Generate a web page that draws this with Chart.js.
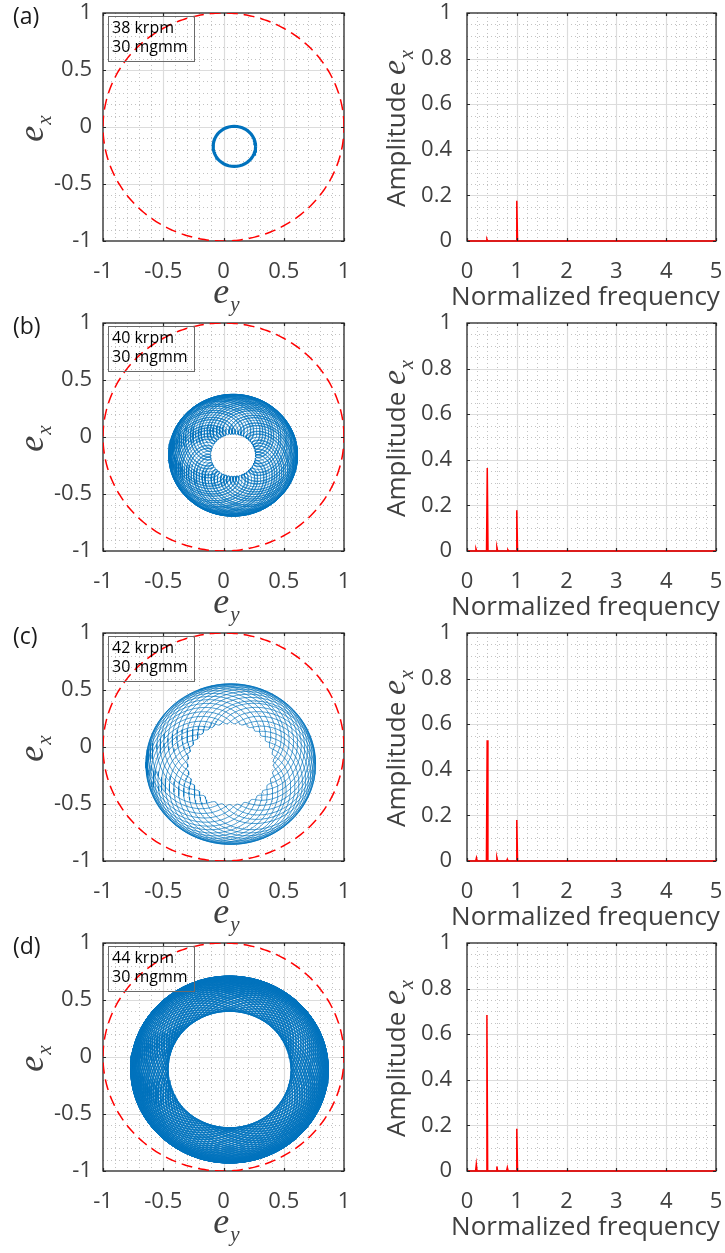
<!DOCTYPE html>
<html>
<head>
<meta charset="utf-8">
<script src="https://cdn.jsdelivr.net/npm/chart.js@4.4.1/dist/chart.umd.min.js"></script>
<style>
  html, body { margin: 0; padding: 0; background: #ffffff; }
  body { position: relative; width: 725px; height: 1253px; overflow: hidden; }
  canvas { position: absolute; }
</style>
</head>
<body>
<script>
// ---------------- data ----------------
const panelLetters   = ['(a)', '(b)', '(c)', '(d)'];
const speedLabels    = ['38 krpm', '40 krpm', '42 krpm', '44 krpm'];
const imbalanceLabel = '30 mgmm';

// orbit tick labels (e_y horizontal, e_x vertical)
const orbitTicks = [-1, -0.5, 0, 0.5, 1];
// spectrum tick labels
const freqTicks = [0, 1, 2, 3, 4, 5];
const ampTicks  = [0, 0.2, 0.4, 0.6, 0.8, 1];

// bearing clearance circle (red dashed)
const clearanceRadius = 1;

const orbitCenterEy = [0.09, 0.08, 0.06, 0.05];
const orbitCenterEx = [-0.17, -0.16, -0.15, -0.11];
const orbitSubAmp   = [0.004, 0.36, 0.53, 0.665];     // sub-synchronous whirl amplitude
const orbitSyncAmp  = [0.176, 0.175, 0.175, 0.155];   // synchronous (unbalance) amplitude
const orbitSubFreq  = [0.40, 0.407, 0.40332, 0.4017]; // normalized sub-synchronous frequency
const orbitRevs     = [20, 150, 60.3, 400];           // shaft revolutions shown

// amplitude spectra of e_x (normalized frequency, amplitude)
const specFreqA = [0, 0.385, 0.40, 0.415, 0.985, 1.0, 1.015, 5];
const specAmpA  = [0, 0,     0.008, 0,    0,     0.176, 0,   0];

const specFreqB = [0, 0.165, 0.18, 0.195, 0.392, 0.407, 0.422, 0.585, 0.60, 0.615, 0.805, 0.82, 0.835, 0.985, 1.0, 1.015, 5];
const specAmpB  = [0, 0,     0.010, 0,    0,     0.364, 0,     0,     0.016, 0,    0,     0.005, 0,    0,     0.179, 0,   0];

const specFreqC = [0, 0.175, 0.19, 0.205, 0.39, 0.405, 0.42, 0.585, 0.60, 0.615, 0.795, 0.81, 0.825, 0.985, 1.0, 1.015, 5];
const specAmpC  = [0, 0,     0.014, 0,    0,    0.53,  0,    0,     0.015, 0,    0,     0.008, 0,    0,     0.18, 0,    0];

const specFreqD = [0, 0.172, 0.187, 0.202, 0.385, 0.40, 0.415, 0.585, 0.60, 0.615, 0.795, 0.81, 0.825, 0.985, 1.0, 1.015, 5];
const specAmpD  = [0, 0,     0.030, 0,     0,     0.684, 0,    0,     0.020, 0,    0,     0.015, 0,    0,     0.185, 0,   0];

const specFreqs = [specFreqA, specFreqB, specFreqC, specFreqD];
const specAmps  = [specAmpA, specAmpB, specAmpC, specAmpD];

// ---------------- layout / style ----------------
const rowTops    = [0, 310, 620, 930];
const rowHeights = [330, 330, 330, 323];
const PLOT_TOP = 13, PLOT_H = 228;
const SANS = '"Open Sans", "Noto Sans", sans-serif';
const SERIF = '"Liberation Serif", "DejaVu Serif", serif';
const TXT = '#404040';

function subdivide(ticks, n) {
  const out = [];
  for (let i = 0; i < ticks.length - 1; i++) {
    const a = ticks[i], b = ticks[i + 1];
    for (let k = 1; k < n; k++) out.push(a + (b - a) * k / n);
  }
  return out;
}

function drawRich(ctx, parts, cx, baseY) {
  let W = 0;
  parts.forEach(p => { ctx.font = p.font; p.w = ctx.measureText(p.text).width; W += p.w + (p.gap || 0); });
  let x = cx - W / 2;
  ctx.textAlign = 'left';
  ctx.textBaseline = 'alphabetic';
  parts.forEach(p => {
    ctx.font = p.font; ctx.fillStyle = p.color || TXT;
    ctx.fillText(p.text, x, baseY + (p.dy || 0));
    x += p.w + (p.gap || 0);
  });
}

const matlabAxes = {
  id: 'matlabAxes',
  beforeDatasetsDraw(chart, _args, o) {
    const { ctx, chartArea: A } = chart;
    const xs = chart.scales.x, ys = chart.scales.y;
    ctx.save();
    // minor dotted grid
    ctx.lineWidth = 1;
    ctx.strokeStyle = '#c2c2c2';
    ctx.setLineDash([1, 3]);
    subdivide(o.xTicks, o.xMinor).forEach(v => {
      const p = Math.round(xs.getPixelForValue(v)) + 0.5;
      ctx.beginPath(); ctx.moveTo(p, A.top); ctx.lineTo(p, A.bottom); ctx.stroke();
    });
    subdivide(o.yTicks, o.yMinor).forEach(v => {
      const p = Math.round(ys.getPixelForValue(v)) + 0.5;
      ctx.beginPath(); ctx.moveTo(A.left, p); ctx.lineTo(A.right, p); ctx.stroke();
    });
    // major grid
    ctx.setLineDash([]);
    ctx.strokeStyle = '#dcdcdc';
    ctx.lineWidth = 1.2;
    o.xTicks.slice(1, -1).forEach(v => {
      const p = Math.round(xs.getPixelForValue(v)) + 0.5;
      ctx.beginPath(); ctx.moveTo(p, A.top); ctx.lineTo(p, A.bottom); ctx.stroke();
    });
    o.yTicks.slice(1, -1).forEach(v => {
      const p = Math.round(ys.getPixelForValue(v)) + 0.5;
      ctx.beginPath(); ctx.moveTo(A.left, p); ctx.lineTo(A.right, p); ctx.stroke();
    });
    // axes box
    ctx.strokeStyle = '#262626';
    ctx.lineWidth = 1.3;
    ctx.strokeRect(A.left, A.top, A.right - A.left, A.bottom - A.top);
    ctx.restore();
  },
  afterDatasetsDraw(chart, _args, o) {
    const { ctx, chartArea: A } = chart;
    const xs = chart.scales.x, ys = chart.scales.y;
    ctx.save();
    // inward tick marks
    ctx.strokeStyle = '#262626';
    ctx.lineWidth = 1.2;
    const L = 3;
    o.xTicks.forEach(v => {
      const p = Math.round(xs.getPixelForValue(v)) + 0.5;
      ctx.beginPath(); ctx.moveTo(p, A.bottom); ctx.lineTo(p, A.bottom - L);
      ctx.moveTo(p, A.top); ctx.lineTo(p, A.top + L); ctx.stroke();
    });
    o.yTicks.forEach(v => {
      const p = Math.round(ys.getPixelForValue(v)) + 0.5;
      ctx.beginPath(); ctx.moveTo(A.left, p); ctx.lineTo(A.left + L, p);
      ctx.moveTo(A.right, p); ctx.lineTo(A.right - L, p); ctx.stroke();
    });

    const cy = (A.top + A.bottom) / 2 + 1.5;
    if (o.kind === 'orbit') {
      // x title e_y
      drawRich(ctx, [
        { text: 'e', font: 'italic 36px ' + SERIF, gap: 1 },
        { text: 'y', font: 'italic 21px ' + SERIF, dy: 8 }
      ], (A.left + A.right) / 2 + 3, A.bottom + 62);
      // y title e_x (rotated)
      ctx.save();
      ctx.translate(43, cy);
      ctx.rotate(-Math.PI / 2);
      drawRich(ctx, [
        { text: 'e', font: 'italic 36px ' + SERIF, gap: 1 },
        { text: 'x', font: 'italic 21px ' + SERIF, dy: 8 }
      ], 0, 0);
      ctx.restore();
      // panel letter
      ctx.font = '23px ' + SANS;
      ctx.fillStyle = '#1a1a1a';
      ctx.textAlign = 'left';
      ctx.textBaseline = 'alphabetic';
      ctx.fillText(o.letter, 13, 24);
      // annotation box
      ctx.strokeStyle = '#6a6a6a';
      ctx.lineWidth = 1;
      ctx.strokeRect(108.5, 16.5, 86, 45);
      ctx.font = '16px ' + SANS;
      ctx.fillStyle = '#000000';
      ctx.fillText(o.speed, 112, 33);
      ctx.fillText(o.imb, 112, 52);
    } else {
      drawRich(ctx, [{ text: 'Normalized frequency', font: '26px ' + SANS }],
        (A.left + A.right) / 2 - 6, A.bottom + 64);
      ctx.save();
      ctx.translate(45, cy);
      ctx.rotate(-Math.PI / 2);
      drawRich(ctx, [
        { text: 'Amplitude ', font: '26px ' + SANS },
        { text: 'e', font: 'italic 34px ' + SERIF, gap: 1 },
        { text: 'x', font: 'italic 20px ' + SERIF, dy: 8 }
      ], 0, 0);
      ctx.restore();
    }
    ctx.restore();
  }
};

function fixPadding(s) {
  s.paddingLeft = 0; s.paddingRight = 0; s.paddingTop = 0; s.paddingBottom = 0;
}

function scaleCfg(ticksArr, min, max, pad, fit) {
  return {
    type: 'linear', min: min, max: max,
    grid: { display: false, drawTicks: false },
    border: { display: false },
    afterBuildTicks: s => { s.ticks = ticksArr.map(v => ({ value: v })); },
    afterFit: s => { fit(s); fixPadding(s); },
    ticks: {
      autoSkip: false, maxRotation: 0, padding: pad, color: TXT,
      font: { family: SANS, size: 22, lineHeight: 1.2 },
      callback: v => String(v)
    }
  };
}

function addCanvas(left, top, w, h) {
  const c = document.createElement('canvas');
  c.width = w; c.height = h;
  c.style.left = left + 'px'; c.style.top = top + 'px';
  c.style.width = w + 'px'; c.style.height = h + 'px';
  document.body.appendChild(c);
  return c;
}

const clearancePts = [];
for (let k = 0; k <= 360; k++) {
  const a = k * Math.PI / 180;
  clearancePts.push({ x: clearanceRadius * Math.cos(a), y: clearanceRadius * Math.sin(a) });
}

function orbitPts(i) {
  const pts = [], perRev = 48, n = Math.round(orbitRevs[i] * perRev);
  for (let k = 0; k <= n; k++) {
    const t = 2 * Math.PI * k / perRev;
    pts.push({
      x: orbitCenterEy[i] + orbitSubAmp[i] * Math.cos(orbitSubFreq[i] * t) + orbitSyncAmp[i] * Math.cos(t),
      y: orbitCenterEx[i] + orbitSubAmp[i] * Math.sin(orbitSubFreq[i] * t) + orbitSyncAmp[i] * Math.sin(t)
    });
  }
  return pts;
}

for (let i = 0; i < 4; i++) {
  const H = rowHeights[i];
  // ---- orbit panel ----
  const cL = addCanvas(0, rowTops[i], 360, H);
  new Chart(cL, {
    type: 'scatter',
    data: {
      datasets: [
        { data: clearancePts, showLine: true, borderColor: '#ff0000', borderWidth: 1.5,
          borderDash: [11, 6], pointRadius: 0, order: 0 },
        { data: orbitPts(i), showLine: true, borderColor: '#0072bd',
          borderWidth: i === 0 ? 2.3 : 0.7, pointRadius: 0, order: 1 }
      ]
    },
    options: {
      responsive: false, animation: false, devicePixelRatio: 1, events: [],
      layout: { padding: { left: 0, right: 16, top: PLOT_TOP, bottom: 0 } },
      plugins: {
        legend: { display: false }, tooltip: { enabled: false },
        matlabAxes: { kind: 'orbit', xTicks: orbitTicks, yTicks: orbitTicks, xMinor: 5, yMinor: 5,
          letter: panelLetters[i], speed: speedLabels[i], imb: imbalanceLabel }
      },
      scales: {
        x: scaleCfg(orbitTicks, -1, 1, 18, s => { s.height = H - PLOT_TOP - PLOT_H; }),
        y: scaleCfg(orbitTicks, -1, 1, 11, s => { s.width = 103; })
      }
    },
    plugins: [matlabAxes]
  });

  // ---- spectrum panel ----
  const cR = addCanvas(360, rowTops[i], 365, H);
  new Chart(cR, {
    type: 'scatter',
    data: {
      datasets: [
        { data: specFreqs[i].map((f, k) => ({ x: f, y: specAmps[i][k] })), showLine: true,
          borderColor: '#ff0000', borderWidth: 1.5, pointRadius: 0, clip: false }
      ]
    },
    options: {
      responsive: false, animation: false, devicePixelRatio: 1, events: [],
      layout: { padding: { left: 0, right: 9, top: PLOT_TOP, bottom: 0 } },
      plugins: {
        legend: { display: false }, tooltip: { enabled: false },
        matlabAxes: { kind: 'spec', xTicks: freqTicks, yTicks: ampTicks, xMinor: 5, yMinor: 4 }
      },
      scales: {
        x: scaleCfg(freqTicks, 0, 5, 18, s => { s.height = H - PLOT_TOP - PLOT_H; }),
        y: scaleCfg(ampTicks, 0, 1, 15, s => { s.width = 107; })
      }
    },
    plugins: [matlabAxes]
  });
}
</script>
</body>
</html>
